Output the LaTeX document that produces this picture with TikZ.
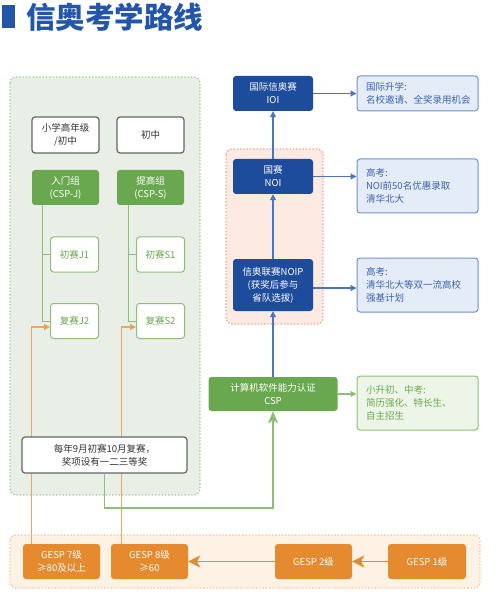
\documentclass[tikz,border=0pt]{standalone}
\usepackage{fontspec}
\setmainfont{Noto Sans CJK SC}
\usetikzlibrary{arrows.meta,calc}
\definecolor{titleblue}{HTML}{2356A8}
\definecolor{dblue}{HTML}{1D4C9C}
\definecolor{lblue}{HTML}{E4ECF8}
\definecolor{mblue}{HTML}{7090CC}
\definecolor{ablue}{HTML}{4F74BF}
\definecolor{tblue}{HTML}{3D62B0}
\definecolor{gfill}{HTML}{6AA84F}
\definecolor{gline}{HTML}{8DBF78}
\definecolor{gbg}{HTML}{E9EFE6}
\definecolor{gdot}{HTML}{A5CC93}
\definecolor{ginfo}{HTML}{EDF5E8}
\definecolor{pbg}{HTML}{FCEAE3}
\definecolor{pdot}{HTML}{F0A38C}
\definecolor{ofill}{HTML}{E58A2F}
\definecolor{obg}{HTML}{FDF2E4}
\definecolor{odot}{HTML}{EFC594}
\definecolor{oline}{HTML}{EBA566}
\definecolor{dgray}{HTML}{666666}
\pgfdeclarelayer{back}
\pgfdeclarelayer{links}
\pgfsetlayers{back,links,main}
\begin{document}
\begin{tikzpicture}[x=1pt,y=-1pt,
  every node/.style={font=\fontsize{9.5}{13}\selectfont, align=center, inner sep=0pt},
  greybox/.style={draw=dgray, line width=1.2pt, fill=white, text=black!80, rounded corners=3pt},
  greenbox/.style={fill=gfill, text=white, rounded corners=3pt},
  smallbox/.style={draw=gline, line width=1pt, fill=white, text=gfill, rounded corners=3pt, minimum width=48pt, minimum height=35pt},
  bluebox/.style={fill=dblue, text=white, rounded corners=3pt, minimum width=80pt},
  infoblue/.style={fill=lblue, draw=mblue, line width=1pt, text=tblue, rounded corners=3pt, align=left, text width=103pt, inner xsep=9pt},
  infogreen/.style={fill=ginfo, draw=gline, line width=1pt, text=gfill, rounded corners=3pt, align=left, text width=103pt, inner xsep=9pt},
  orangebox/.style={fill=ofill, text=white, rounded corners=3pt, minimum width=77pt, minimum height=35pt},
  barrow/.style={draw=ablue, line width=1.2pt, -{Triangle[length=6pt,width=6pt]}},
  garrow/.style={draw=gline, line width=1.2pt, -{Triangle[length=6pt,width=6pt]}},
  tree/.style={draw=gline, line width=1pt},
  oarrow/.style={draw=oline, line width=1.2pt, -{Triangle[length=6pt,width=6pt,fill=ofill]}},
  bigo/.style={draw=ofill, line width=1.6pt, -{Stealth[length=12pt,width=12pt,inset=3pt]}},
  bigg/.style={draw=gline, line width=1.6pt, -{Stealth[length=12pt,width=10pt,inset=3pt]}}
]
\useasboundingbox (0,0) rectangle (500,601);
% title
\fill[titleblue] (2,5) rectangle (15,28);
\node[anchor=west, text=titleblue, font=\fontsize{29.5}{31}\bfseries] (title) at (26,17) {信奥考学路线};

% regions
\begin{pgfonlayer}{back}
\draw[fill=gbg, draw=gdot, dotted, line width=1.3pt, rounded corners=6pt] (10,77) rectangle (200,495);
\draw[fill=pbg, draw=pdot, dotted, line width=1.3pt, rounded corners=6pt] (226,149) rectangle (323,324);
\draw[fill=obg, draw=odot, dotted, line width=1.3pt, rounded corners=6pt] (10,535) rectangle (480,588);
\end{pgfonlayer}

% left column
\node[greybox, minimum width=67pt, minimum height=36pt] (low) at (65.5,135) {小学高年级\\/初中};
\node[greybox, minimum width=67pt, minimum height=36pt] (mid) at (150.5,135) {初中};
\node[greenbox, minimum width=67pt, minimum height=35pt] (cspj) at (65.5,187.5) {入门组\\(CSP-J)};
\node[greenbox, minimum width=67pt, minimum height=35pt] (csps) at (150.5,187.5) {提高组\\(CSP-S)};
\node[smallbox] (j1) at (74.5,254.5) {初赛J1};
\node[smallbox] (j2) at (74.5,321) {复赛J2};
\node[smallbox] (s1) at (160.5,254.5) {初赛S1};
\node[smallbox] (s2) at (160.5,321) {复赛S2};
\node[greybox, minimum width=165pt, minimum height=36pt] (note) at (104.5,455) {每年9月初赛10月复赛，\\奖项设有一二三等奖};

% right column
\node[bluebox, minimum height=35pt] (ioi) at (273,93.5) {国际信奥赛\\IOI};
\node[bluebox, minimum height=35pt] (noi) at (273,176.5) {国赛\\NOI};
\node[bluebox, minimum height=52pt] (noip) at (273,285) {信奥联赛NOIP\\(获奖后参与\\省队选拔)};
\node[greenbox, minimum width=129pt, minimum height=34pt] (csp) at (273,394) {计算机软件能力认证\\CSP};
\node[infoblue, minimum height=35pt] (info1) at (417.5,93.5) {国际升学:\\名校邀请、全奖录用机会};
\node[infoblue, minimum height=54pt] (info2) at (417.5,186) {高考:\\NOI前50名优惠录取\\清华北大};
\node[infoblue, minimum height=54pt] (info3) at (417.5,285) {高考:\\清华北大等双一流高校\\强基计划};
\node[infogreen, minimum height=54pt] (info4) at (417.5,403) {小升初、中考:\\简历强化、特长生、\\自主招生};

% GESP
\node[orangebox] (g7) at (61.5,561.5) {GESP 7级\\≥80及以上};
\node[orangebox] (g8) at (149.5,561.5) {GESP 8级\\≥60};
\node[orangebox] (g2) at (313.5,561.5) {GESP 2级};
\node[orangebox, minimum width=78pt] (g1) at (427,561.5) {GESP 1级};

\coordinate (jt) at ($(cspj.south west)+(11,0)$);
\coordinate (st) at ($(csps.south west)+(12,0)$);
\coordinate (gt) at (273,508);

\begin{pgfonlayer}{links}
\draw[tree] (jt) |- (j2.west);
\draw[tree] (jt |- j1.west) -- (j1.west);
\draw[tree] (st) |- (s2.west);
\draw[tree] (st |- s1.west) -- (s1.west);
\draw[oarrow] ($(g7.north west)+(9,0)$) |- ($(j2.west)+(0,6)$);
\draw[oarrow] ($(g8.north west)+(11,0)$) |- ($(s2.west)+(0,6)$);
\draw[bigg] (note.south) |- (gt) -- (csp.south);
\draw[barrow] (csp.north) -- (noip.south);
\draw[barrow] (noip.north) -- (noi.south);
\draw[barrow] (noi.north) -- (ioi.south);
\draw[barrow] (ioi.east) -- (info1.west);
\draw[barrow] (noi.east) -- (noi.east -| info2.west);
\draw[barrow] ($(noip.east)+(0,3)$) -- ($(noip.east -| info3.west)+(0,3)$);
\draw[garrow] (csp.east) -- (csp.east -| info4.west);
\draw[bigo] (g1.west) -- (g2.east);
\draw[bigo] (g2.west) -- (g8.east);
\end{pgfonlayer}
\end{tikzpicture}
\end{document}
